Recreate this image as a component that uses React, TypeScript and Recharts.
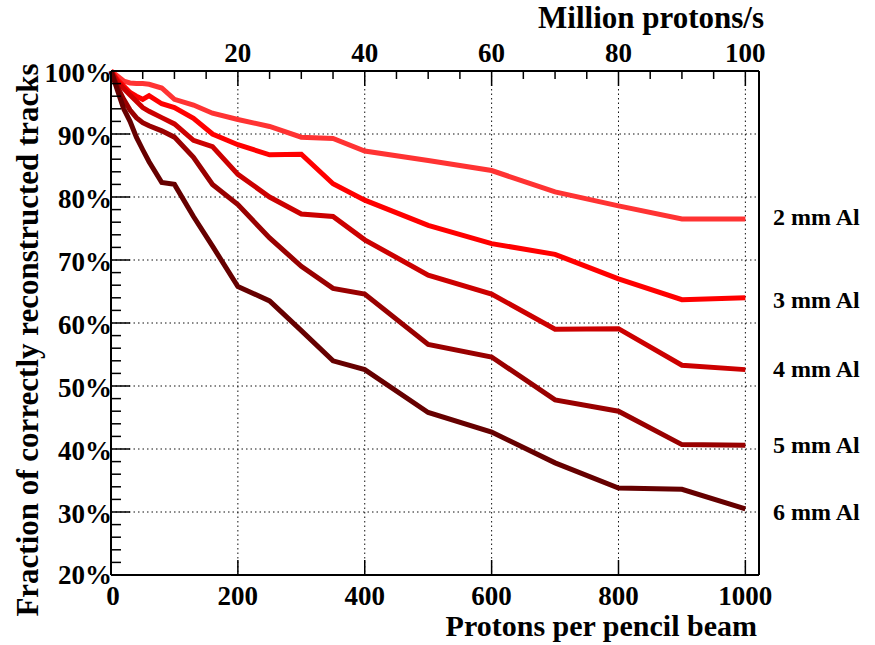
import React from 'react';
import { LineChart, Line, XAxis, YAxis, CartesianGrid } from 'recharts';

// protons per pencil beam (bottom axis); top axis = /10 (million protons/s)
const protonsPerBeam = [0, 10, 20, 30, 40, 50, 60, 80, 100, 130, 160, 200, 250, 300, 350, 400, 500, 600, 700, 800, 900, 1000];

// fraction of correctly reconstructed tracks, in %
const al2mm = [100, 99.2, 98.4, 98.1, 98.0, 98.0, 97.9, 97.3, 95.5, 94.6, 93.3, 92.3, 91.2, 89.5, 89.3, 87.3, 85.8, 84.2, 80.8, 78.6, 76.5, 76.5];
const al3mm = [100, 98.6, 97.6, 96.6, 96.0, 95.5, 96.1, 94.8, 94.2, 92.5, 90.0, 88.3, 86.7, 86.8, 82.1, 79.5, 75.5, 72.6, 70.9, 67.0, 63.7, 64.0];
const al4mm = [100, 98.3, 97.2, 96.2, 95.2, 94.2, 93.6, 92.6, 91.6, 89.0, 88.0, 83.6, 80.0, 77.3, 76.9, 73.2, 67.6, 64.6, 59.0, 59.1, 53.3, 52.6];
const al5mm = [100, 97.5, 95.5, 93.8, 92.6, 91.8, 91.3, 90.5, 89.5, 86.3, 82.0, 78.8, 73.5, 69.0, 65.5, 64.6, 56.6, 54.6, 47.8, 46.0, 40.7, 40.6];
const al6mm = [100, 97.0, 94.0, 92.0, 89.5, 87.5, 85.6, 82.3, 82.0, 76.9, 72.2, 65.8, 63.5, 58.8, 54.0, 52.6, 45.8, 42.7, 37.8, 33.8, 33.6, 30.5];

const seriesNames = ['2 mm Al', '3 mm Al', '4 mm Al', '5 mm Al', '6 mm Al'];
const seriesColors = ['#ff3333', '#ff0000', '#cc0000', '#990000', '#660000'];
const seriesKeys = ['al2', 'al3', 'al4', 'al5', 'al6'];

const bottomTicks = [0, 200, 400, 600, 800, 1000];
const topTicks = [50, 100, 150, 200, 250, 300, 350, 400, 450, 500, 550, 600, 650, 700, 750, 800, 850, 900, 950, 1000];
const yTicks = [20, 22, 24, 26, 28, 30, 32, 34, 36, 38, 40, 42, 44, 46, 48, 50, 52, 54, 56, 58, 60, 62, 64, 66, 68, 70, 72, 74, 76, 78, 80, 82, 84, 86, 88, 90, 92, 94, 96, 98, 100];
const gridX = [200, 400, 600, 800, 1000];
const gridY = [30, 40, 50, 60, 70, 80, 90];

const data = protonsPerBeam.map((x, i) => ({
  x,
  al2: al2mm[i],
  al3: al3mm[i],
  al4: al4mm[i],
  al5: al5mm[i],
  al6: al6mm[i],
}));

const FONT = '"Liberation Serif", "Times New Roman", serif';
const W = 875;
const H = 645;

function BottomTick({ x, y, payload }: any) {
  const v = payload.value;
  return (
    <g>
      {v !== 0 && <line x1={x} x2={x} y1={y} y2={y - 15} stroke="#000" strokeWidth={1.5} />}
      <text x={v === 0 ? x + 2 : x} y={y + 30} textAnchor="middle" fontFamily={FONT} fontWeight="bold" fontSize={27} fill="#000">
        {v}
      </text>
    </g>
  );
}

function TopTick({ x, y, payload }: any) {
  const v = payload.value;
  const major = v % 200 === 0;
  return (
    <g>
      <line x1={x} x2={x} y1={y} y2={y + (major ? 15 : 8)} stroke="#000" strokeWidth={1.5} />
      {major && (
        <text x={x} y={y - 9} textAnchor="middle" fontFamily={FONT} fontWeight="bold" fontSize={27} fill="#000">
          {v / 10}
        </text>
      )}
    </g>
  );
}

function LeftTick({ x, y, payload }: any) {
  const v = payload.value;
  const major = v % 10 === 0;
  return (
    <g>
      <line x1={x} x2={x + (major ? 19 : 10)} y1={y} y2={y} stroke="#000" strokeWidth={1.5} />
      {major && (
        <text x={x + 1} y={v === 20 ? y + 9 : y + 11} textAnchor="end" fontFamily={FONT} fontWeight="bold" fontSize={27} fill="#000">
          {v}%
        </text>
      )}
    </g>
  );
}

const labelBaselines = [225, 308, 377, 453, 520];

export default function App() {
  return (
    <div style={{ position: 'absolute', left: 0, top: 0, width: W, height: H, background: '#fff' }}>
      <LineChart width={W} height={H} data={data} margin={{ top: 70, right: 115, bottom: 69, left: 110 }}>
        <CartesianGrid
          horizontalValues={gridY}
          verticalValues={gridX}
          stroke="#111"
          strokeDasharray="1.5 3"
          strokeWidth={1}
        />
        <XAxis
          dataKey="x"
          type="number"
          domain={[0, 1021.5]}
          ticks={bottomTicks}
          interval={0}
          height={1}
          tickSize={0}
          tickMargin={0}
          tick={<BottomTick />}
          axisLine={{ stroke: '#000', strokeWidth: 2 }}
        />
        <XAxis
          xAxisId="top"
          orientation="top"
          dataKey="x"
          type="number"
          domain={[0, 1021.5]}
          ticks={topTicks}
          interval={0}
          height={1}
          tickSize={0}
          tickMargin={0}
          tick={<TopTick />}
          axisLine={{ stroke: '#000', strokeWidth: 2 }}
        />
        <YAxis
          type="number"
          domain={[20, 100]}
          ticks={yTicks}
          interval={0}
          width={1}
          tickSize={0}
          tickMargin={0}
          tick={<LeftTick />}
          axisLine={{ stroke: '#000', strokeWidth: 2 }}
        />
        <YAxis
          yAxisId="right"
          orientation="right"
          type="number"
          domain={[20, 100]}
          width={1}
          tick={false}
          tickLine={false}
          axisLine={{ stroke: '#000', strokeWidth: 2 }}
        />
        {seriesKeys.map((k, i) => (
          <Line
            key={k}
            type="linear"
            dataKey={k}
            name={seriesNames[i]}
            stroke={seriesColors[i]}
            strokeWidth={5}
            dot={false}
            activeDot={false}
            isAnimationActive={false}
          />
        ))}
      </LineChart>
      <svg width={W} height={H} style={{ position: 'absolute', left: 0, top: 0, pointerEvents: 'none' }}>
        <g fontFamily={FONT} fontWeight="bold" fill="#000">
          <text x={764} y={28} textAnchor="end" fontSize={31}>
            Million protons/s
          </text>
          <text x={757} y={636} textAnchor="end" fontSize={30}>
            Protons per pencil beam
          </text>
          <text x={38} y={340} textAnchor="middle" fontSize={31} transform="rotate(-90 38 340)">
            Fraction of correctly reconstructed tracks
          </text>
          {seriesNames.map((n, i) => (
            <text key={n} x={773} y={labelBaselines[i]} fontSize={24}>
              {n}
            </text>
          ))}
        </g>
      </svg>
    </div>
  );
}
